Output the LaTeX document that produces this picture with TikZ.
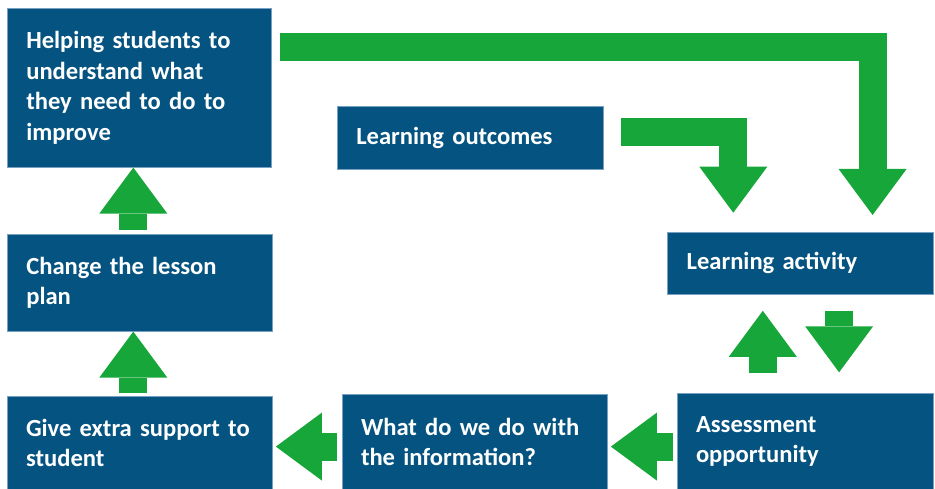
\documentclass[tikz,border=0pt]{standalone}
\usepackage{fontspec}
\setmainfont{Carlito}
\usetikzlibrary{arrows.meta}
\definecolor{boxblue}{RGB}{4,83,128}
\definecolor{boxedge}{RGB}{120,160,195}
\definecolor{flowgreen}{RGB}{22,166,57}

\begin{document}
\begin{tikzpicture}[x=1pt, y=-1pt,
  stage/.style={rectangle, anchor=north west, fill=boxblue, draw=boxedge, line width=0.6pt,
    text=white, font=\bfseries\fontsize{24.6}{30.6}\selectfont, align=left, inner xsep=19pt, inner ysep=0pt},
  flow/.style={draw=flowgreen, line width=28pt, line join=miter,
    -{Triangle[width=68pt, length=46pt, line width=0pt]}}]
\path[use as bounding box] (0,0) rectangle (935,489);

\node[stage, text width=226pt, minimum height=159pt] (help) at (7,8) {Helping students to\\ understand what\\ they need to do to\\ improve};
\node[stage, text width=228pt, minimum height=63pt] (outcomes) at (337,106.3) {Learning outcomes};
\node[stage, text width=228pt, minimum height=62.5pt] (activity) at (667.3,231.7) {Learning activity};
\node[stage, text width=226.5pt, minimum height=96.7pt] (change) at (7,234.3) {Change the lesson\\ plan};
\node[stage, text width=218.6pt, minimum height=96pt] (assess) at (676.7,393.3) {Assessment\\ opportunity};
\node[stage, text width=227.3pt, minimum height=95pt] (what) at (341.7,394.3) {What do we do with\\ the information?};
\node[stage, text width=227pt, minimum height=94pt] (give) at (6.7,395.7) {Give extra support to\\ student};

\draw[flow] ([xshift=8pt,yshift=-39pt]help.north east) -| ([xshift=72pt,yshift=16.7pt]activity.north);
\draw[flow] ([xshift=17pt,yshift=-26pt]outcomes.north east) -| ([xshift=-67.3pt,yshift=19pt]activity.north);

\draw[flow] ([xshift=-42.5pt,yshift=20.6pt]assess.north) -- ([xshift=-37.8pt,yshift=-16pt]activity.south);
\draw[flow] ([xshift=38.5pt,yshift=-16pt]activity.south) -- ([xshift=33.8pt,yshift=21pt]assess.north);

\draw[flow] ([xshift=-4pt,yshift=-5pt]assess.west) -- ([xshift=3.3pt,yshift=-4.5pt]what.east);
\draw[flow] ([xshift=-4.4pt,yshift=-4.5pt]what.west) -- ([xshift=3.6pt,yshift=-3.6pt]give.east);

\draw[flow] ([xshift=-6.2pt,yshift=2.4pt]give.north) -- ([xshift=-6.25pt]change.south);
\draw[flow] ([xshift=-6.25pt,yshift=4.3pt]change.north) -- ([xshift=-6pt]help.south);

\end{tikzpicture}
\end{document}
